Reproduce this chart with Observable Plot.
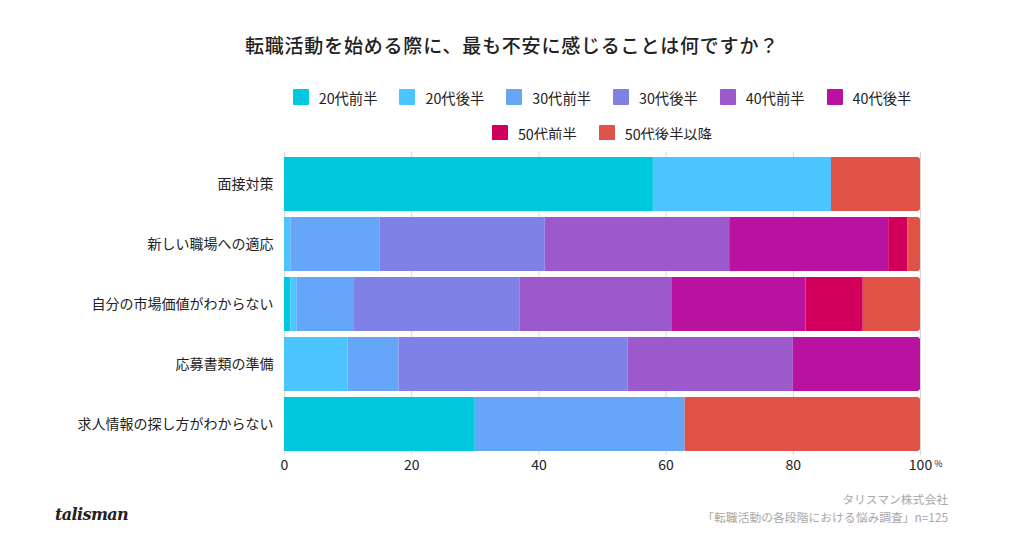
<!DOCTYPE html>
<html>
<head>
<meta charset="utf-8">
<script src="https://cdn.jsdelivr.net/npm/d3@7"></script>
<script src="https://cdn.jsdelivr.net/npm/@observablehq/plot@0.6"></script>
<style>
  html, body { margin: 0; padding: 0; background: #fff; }
  body { font-family: "Noto Sans CJK JP", "Noto Sans", sans-serif; }
  #wrap { position: relative; width: 1024px; height: 560px; overflow: hidden; }
  #title { position: absolute; top: 31px; left: 0; width: 1024px; text-align: center; font-size: 19px; font-weight: 500; color: #222; letter-spacing: 0.8px; }
  #legend { position: absolute; top: 86px; left: 270px; width: 664px; display: flex; flex-wrap: wrap; justify-content: center; row-gap: 14px; column-gap: 22px; }
  .item { display: flex; align-items: center; font-size: 14.3px; color: #222; height: 22px; }
  .sw { width: 16px; height: 16px; margin-right: 10px; border-radius: 1px; }
  #chart { position: absolute; top: 140px; left: 0; }
  #logo { position: absolute; left: 55px; top: 505px; font-family: "DejaVu Serif", serif; font-style: italic; font-weight: 700; font-size: 16px; color: #222; letter-spacing: -0.6px; }
  #source { position: absolute; right: 76px; top: 490px; text-align: right; font-size: 11.8px; color: #a8a8a8; line-height: 18px; }
</style>
</head>
<body>
<div id="wrap">
  <div id="title">転職活動を始める際に、最も不安に感じることは何ですか？</div>
  <div id="legend"></div>
  <div id="chart"></div>
  <div id="logo">talisman</div>
  <div id="source">タリスマン株式会社<br>「転職活動の各段階における悩み調査」n=125</div>
</div>
<script>
const questions = ["面接対策", "新しい職場への適応", "自分の市場価値がわからない", "応募書類の準備", "求人情報の探し方がわからない"];
const ageGroups = ["20代前半", "20代後半", "30代前半", "30代後半", "40代前半", "40代後半", "50代前半", "50代後半以降"];
const colors = ["#00c9dd", "#4bc4ff", "#66a6f8", "#8081e6", "#9b59cb", "#ba12a0", "#d0005c", "#e05246"];
// values per age group, in the order of questions (%)
const v20a = [58, 0, 1, 0, 30];
const v20b = [28, 1, 1, 10, 0];
const v30a = [0, 14, 9, 8, 33];
const v30b = [0, 26, 26, 36, 0];
const v40a = [0, 29, 24, 26, 0];
const v40b = [0, 25, 21, 20, 0];
const v50a = [0, 3, 9, 0, 0];
const v50b = [14, 2, 9, 0, 37];
const xTicks = [0, 20, 40, 60, 80, 100];

const series = [v20a, v20b, v30a, v30b, v40a, v40b, v50a, v50b];

// build table with cumulative positions
const rows = [];
questions.forEach((q, qi) => {
  let acc = 0;
  let lastIdx = -1;
  series.forEach((s, si) => { if (s[qi] > 0) lastIdx = si; });
  series.forEach((s, si) => {
    const v = s[qi];
    if (v > 0) {
      rows.push({question: q, age: ageGroups[si], x1: acc, x2: acc + v, last: si === lastIdx});
      acc += v;
    }
  });
});

// legend
const legend = document.getElementById("legend");
ageGroups.forEach((a, i) => {
  const it = document.createElement("div");
  it.className = "item";
  it.innerHTML = `<span class="sw" style="background:${colors[i]}"></span><span>${a}</span>`;
  legend.appendChild(it);
});

const color = {domain: ageGroups, range: colors};

const chart = Plot.plot({
  width: 1024,
  height: 340,
  marginLeft: 284,
  marginRight: 104,
  marginTop: 12,
  marginBottom: 25,
  style: {fontFamily: "'Noto Sans CJK JP', 'Noto Sans', sans-serif", fontSize: "14px", color: "#222", background: "#fff"},
  x: {domain: [0, 100], ticks: xTicks, label: null},
  y: {domain: questions, label: null, paddingInner: 0.1, paddingOuter: 0.04},
  color,
  marks: [
    Plot.gridX(xTicks, {stroke: "#d8d8d8", strokeOpacity: 1}),
    Plot.barX(rows.filter(d => !d.last), {y: "question", x1: "x1", x2: "x2", fill: d => d.age}),
    Plot.barX(rows.filter(d => d.last), {y: "question", x1: "x1", x2: "x2", fill: d => d.age, rx2: 3}),
    Plot.axisX(xTicks, {tickSize: 0, tickPadding: 5, fontSize: 14, label: null, anchor: "bottom"}),
    Plot.axisY(questions, {tickSize: 0, tickPadding: 11, fontSize: 14, label: null, anchor: "left"}),
    Plot.text(["%"], {x: () => 100, frameAnchor: "bottom", dy: 11, dx: 18, fontSize: 9, fill: "#222"})
  ]
});
document.getElementById("chart").appendChild(chart);
</script>
</body>
</html>
